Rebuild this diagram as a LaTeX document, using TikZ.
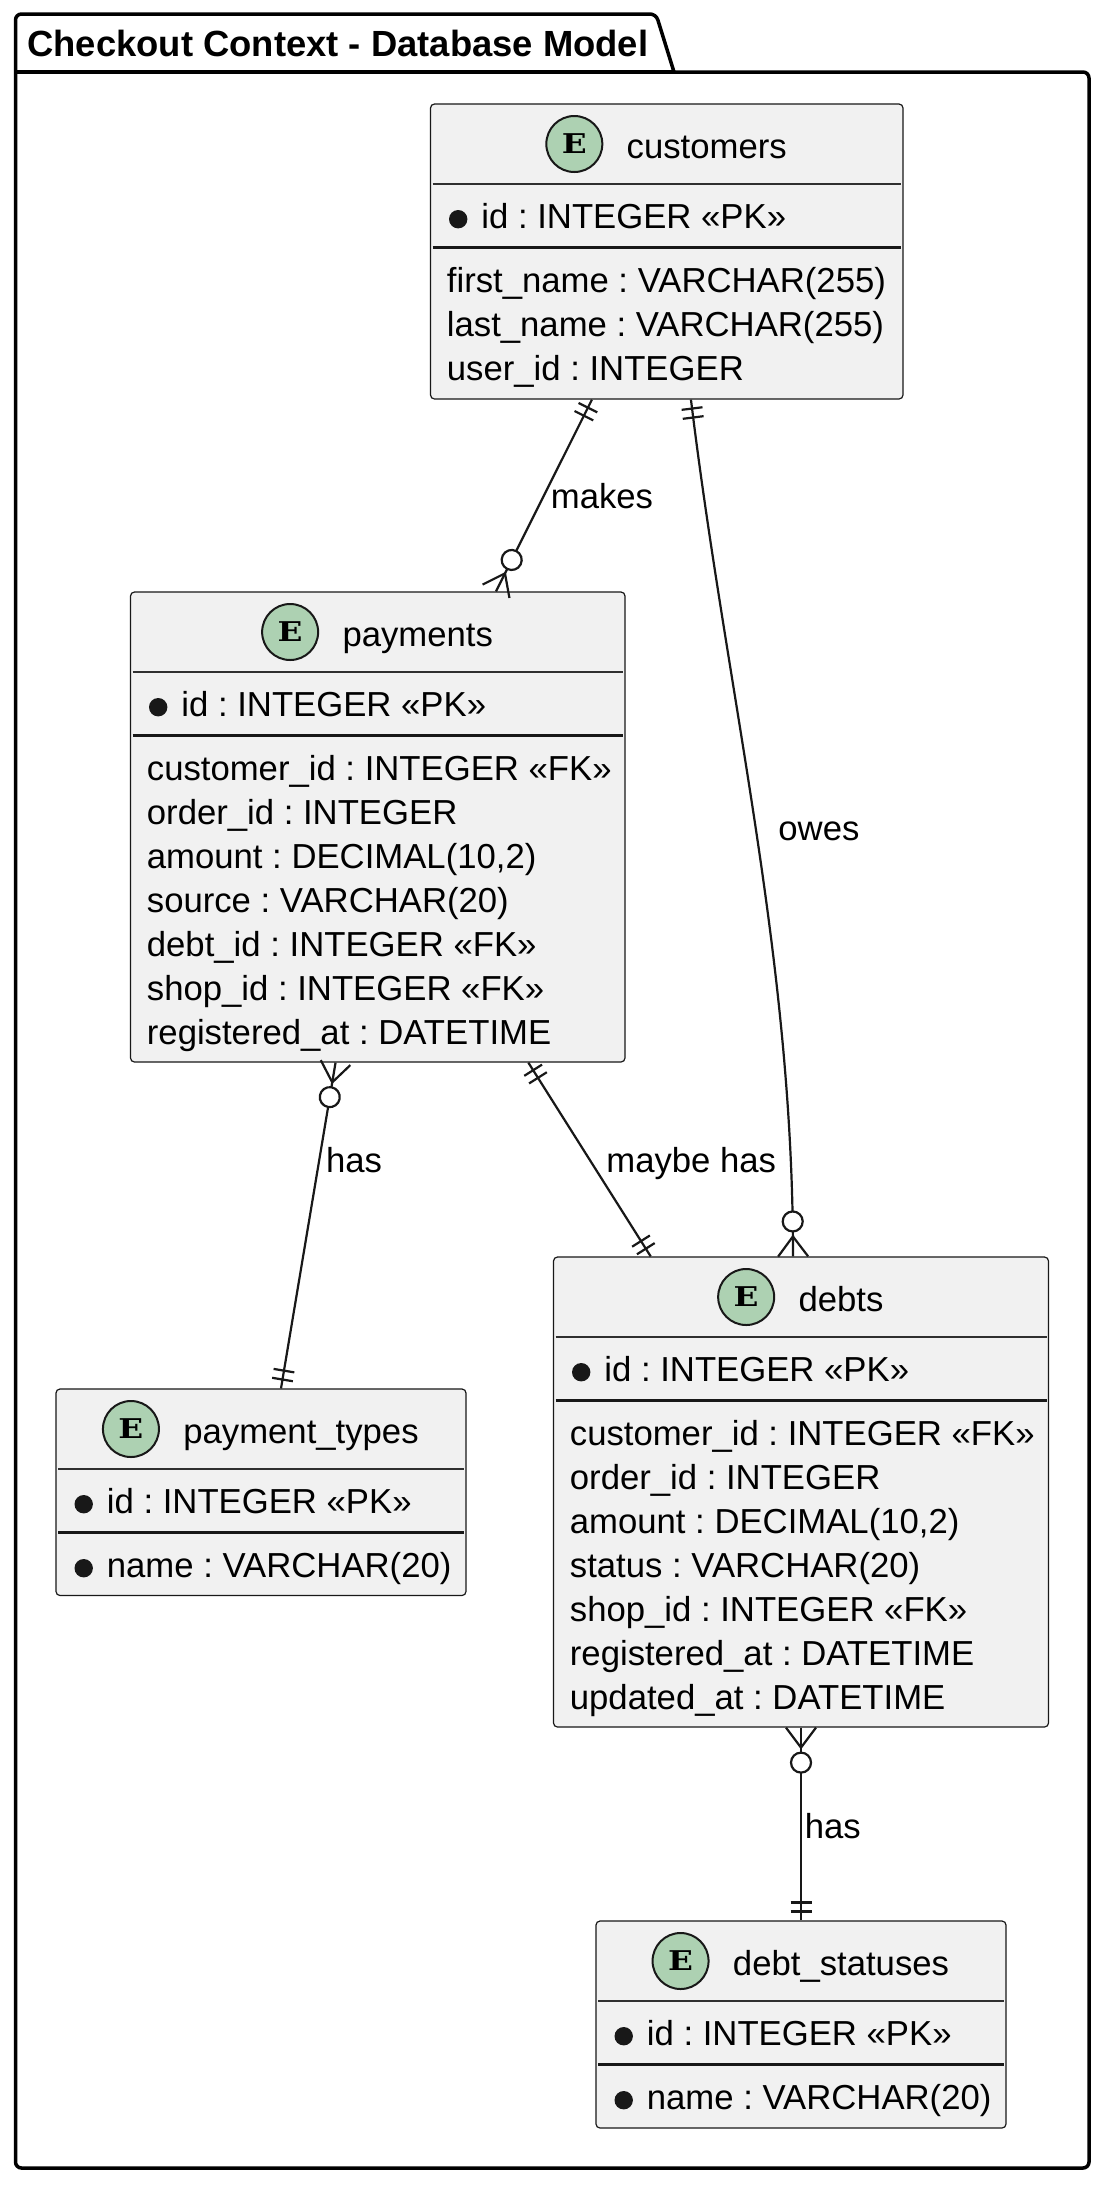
\documentclass[tikz,border=0pt]{standalone}
\usepackage{fontspec}
\usepackage{graphicx}
\setmainfont{Liberation Sans}
\newfontfamily\eserif{DejaVu Serif}
\usetikzlibrary{calc,decorations.markings}
\definecolor{boxfill}{HTML}{F1F1F1}
\definecolor{edge}{HTML}{181818}
\definecolor{egreen}{HTML}{ADD1B2}

\tikzset{
  ebox/.style={draw=edge, fill=boxfill, line width=0.6pt, rounded corners=2pt, inner sep=0pt, rectangle},
  ename/.style={inner sep=0pt, font=\fontsize{17.35pt}{20pt}\selectfont},
  etext/.style={inner sep=0pt, font=\fontsize{17.35pt}{20pt}\selectfont},
  ecirc/.style={circle, draw=edge, fill=egreen, line width=1pt, minimum size=28pt, inner sep=0pt, font=\eserif\bfseries\fontsize{13.6pt}{14pt}\selectfont},
  hsep/.style={draw=edge!90, line width=0.55pt},
  psep/.style={draw=edge, line width=1.25pt},
  lbl/.style={inner sep=0pt, anchor=base west, font=\fontsize{17.35pt}{20pt}\selectfont},
  frame/.style={draw=black, line width=1.75pt, rounded corners=3pt},
  tickp/.style={draw=edge, line width=1.1pt},
  erlink/.style={draw=edge, line width=1.1pt, postaction={decorate}},
  onemany/.style={erlink, decoration={markings,
     mark=at position 4.5pt with {\draw[tickp] (0,-5.25pt) -- (0,5.25pt);},
     mark=at position 9pt with {\draw[tickp] (0,-5.25pt) -- (0,5.25pt);},
     mark=at position -17.5pt with {\draw[tickp, fill=white] (0,0) circle (5pt);},
     mark=at position -10pt with {\draw[tickp] (10pt,7.5pt) -- (0,0) -- (10pt,-7.5pt);}}},
  manyone/.style={erlink, decoration={markings,
     mark=at position 10pt with {\draw[tickp] (-10pt,7.5pt) -- (0,0) -- (-10pt,-7.5pt);},
     mark=at position 17.5pt with {\draw[tickp, fill=white] (0,0) circle (5pt);},
     mark=at position -9pt with {\draw[tickp] (0,-5.25pt) -- (0,5.25pt);},
     mark=at position -4.5pt with {\draw[tickp] (0,-5.25pt) -- (0,5.25pt);}}},
  oneone/.style={erlink, decoration={markings,
     mark=at position 4.5pt with {\draw[tickp] (0,-5.25pt) -- (0,5.25pt);},
     mark=at position 9pt with {\draw[tickp] (0,-5.25pt) -- (0,5.25pt);},
     mark=at position -9pt with {\draw[tickp] (0,-5.25pt) -- (0,5.25pt);},
     mark=at position -4.5pt with {\draw[tickp] (0,-5.25pt) -- (0,5.25pt);}}}
}

% #1 name, #2 L, #3 T, #4 R, #5 B, #6 title
\newcommand\erbox[6]{%
  \node[ebox, minimum width={(#4-#2)*0.5pt}, minimum height={(#5-#3)*0.5pt}] (#1) at ({(#2+#4)/2},{(#3+#5)/2}) {};
  \node[ename, anchor=base] (#1-name) at ({(#2+#4)/2},{#3+54}) {\hspace*{40pt}#6};
  \node[ecirc] (#1-icon) at ([shift={(14pt,7pt)}]#1-name.base west) {\scalebox{1.2}[1]{E}};
  \draw[hsep] ({#2+2},{#3+80}) -- ({#4-2},{#3+80});
  \draw[psep] ({#2+2},{#3+143.5}) -- ({#4-2},{#3+143.5});
}
% bullet row: name, L, baseline, text
\newcommand\brow[4]{%
  \fill[edge] ({#2+27.7},{#3-8.8}) circle (4.6pt);
  \node[etext, anchor=base west] (#1) at ({#2+50.5},#3) {#4};}
% plain row
\newcommand\arow[4]{\node[etext, anchor=base west] (#1) at ({#2+16},#3) {#4};}

\begin{document}
\frenchspacing
\begin{tikzpicture}[x=0.5pt, y=-0.5pt]
\useasboundingbox[fill=white] (0,0) rectangle (1107,2185);

% package frame
\draw[frame] (674,72) -- (1089,72) -- (1089,2168) -- (15.5,2168) -- (15.5,14) -- (656,14) -- (674,72);
\draw[frame] (15.5,72) -- (674,72);
\node[inner sep=0pt, anchor=base west, font=\bfseries\fontsize{18.2pt}{20pt}\selectfont] (title) at (27,56) {Checkout Context - Database Model};

% customers
\erbox{cust}{430.5}{104}{903}{399}{customers}
\brow{cust-pk}{430.5}{228}{id : INTEGER «PK»}
\arow{cust-a1}{430.5}{292}{first\_name : VARCHAR(255)}
\arow{cust-a2}{430.5}{336}{last\_name : VARCHAR(255)}
\arow{cust-a3}{430.5}{380}{user\_id : INTEGER}

% payments
\erbox{pay}{130.5}{592}{625}{1062}{payments}
\brow{pay-pk}{130.5}{716}{id : INTEGER «PK»}
\arow{pay-a1}{130.5}{780}{customer\_id : INTEGER «FK»}
\arow{pay-a2}{130.5}{824}{order\_id : INTEGER}
\arow{pay-a3}{130.5}{868}{amount : DECIMAL(10,2)}
\arow{pay-a4}{130.5}{912}{source : VARCHAR(20)}
\arow{pay-a5}{130.5}{956}{debt\_id : INTEGER «FK»}
\arow{pay-a6}{130.5}{1000}{shop\_id : INTEGER «FK»}
\arow{pay-a7}{130.5}{1044}{registered\_at : DATETIME}

% payment_types
\erbox{ptypes}{56}{1389}{466}{1595.5}{payment\_types}
\brow{ptypes-pk}{56}{1513}{id : INTEGER «PK»}
\brow{ptypes-a1}{56}{1577}{name : VARCHAR(20)}

% debts
\erbox{debts}{553.5}{1257}{1048.5}{1727}{debts}
\brow{debts-pk}{553.5}{1381}{id : INTEGER «PK»}
\arow{debts-a1}{553.5}{1445}{customer\_id : INTEGER «FK»}
\arow{debts-a2}{553.5}{1489}{order\_id : INTEGER}
\arow{debts-a3}{553.5}{1533}{amount : DECIMAL(10,2)}
\arow{debts-a4}{553.5}{1577}{status : VARCHAR(20)}
\arow{debts-a5}{553.5}{1621}{shop\_id : INTEGER «FK»}
\arow{debts-a6}{553.5}{1665}{registered\_at : DATETIME}
\arow{debts-a7}{553.5}{1709}{updated\_at : DATETIME}

% debt_statuses
\erbox{dstat}{596}{1921}{1006}{2128}{debt\_statuses}
\brow{dstat-pk}{596}{2045}{id : INTEGER «PK»}
\brow{dstat-a1}{596}{2109}{name : VARCHAR(20)}

% connectors
\draw[onemany] ([xshift=-37.4pt]cust.south) -- ([xshift=59.1pt]pay.north);
\draw[onemany] ([xshift=12.1pt]cust.south) .. controls +(18.15pt,-149pt) and +(0pt,150pt) .. ([xshift=-4pt]debts.north);
\draw[manyone] ([xshift=-21.1pt]pay.south) -- ([xshift=10pt]ptypes.north);
\draw[oneone] ([xshift=75.3pt]pay.south) -- ([xshift=-75.15pt]debts.north);
\draw[manyone] (debts.south) -- (dstat.north);

% labels
\node[lbl] (l-makes) at (550.5,508) {makes};
\node[lbl] (l-owes) at (778,840) {owes};
\node[lbl] (l-has1) at (325.7,1172) {has};
\node[lbl] (l-maybe) at (606,1172) {maybe has};
\node[lbl] (l-has2) at (804.5,1838) {has};
\end{tikzpicture}
\end{document}
